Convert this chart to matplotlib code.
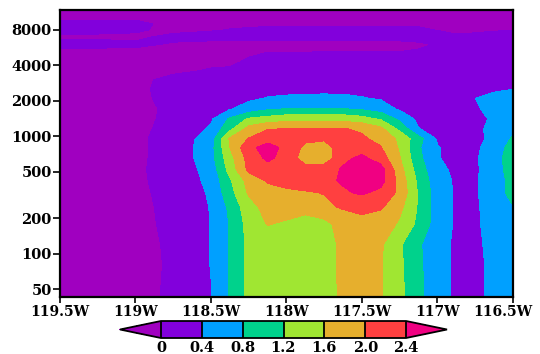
import numpy as np
import matplotlib
matplotlib.use('Agg')
from matplotlib import pyplot as plt
from matplotlib.colors import ListedColormap, BoundaryNorm
from matplotlib.ticker import FixedLocator, FixedFormatter, NullLocator
from matplotlib.transforms import ScaledTranslation

# longitude (deg east) of each grid column
lons = [-119.5, -119.25, -119.0, -118.75, -118.5, -118.375, -118.25, -118.125,
        -118.0, -117.875, -117.75, -117.625, -117.5, -117.375, -117.25,
        -117.125, -117.0, -116.875, -116.75, -116.625, -116.5]

# height of each grid row, top to bottom
heights = [11800, 10000, 9000, 8000, 7000, 6000, 5000, 4300, 3600, 3000, 2500,
           2100, 1700, 1400, 1150, 950, 800, 650, 520, 420, 330, 250, 180,
           120, 80, 43]

# field values, one row per height
field = [
    [-0.15, -0.15, -0.15, -0.15, -0.15, -0.15, -0.15, -0.15, -0.15, -0.15, -0.15, -0.15, -0.15, -0.15, -0.15, -0.15, -0.15, -0.15, -0.15, -0.15, -0.15],
    [-0.05, -0.05, -0.05, -0.1, -0.1, -0.1, -0.1, -0.1, -0.1, -0.1, -0.1, -0.1, -0.1, -0.1, -0.1, -0.1, -0.1, -0.1, -0.1, -0.1, -0.1],
    [0.1, 0.1, 0.1, -0.12, -0.08, -0.06, -0.05, -0.04, -0.04, -0.04, -0.04, -0.04, -0.04, -0.04, -0.04, -0.04, -0.05, -0.08, -0.08, -0.07, -0.06],
    [0.1, 0.1, 0.08, -0.14, -0.03, 0.01, 0.03, 0.05, 0.05, 0.05, 0.05, 0.05, 0.05, 0.05, 0.05, 0.04, -0.01, -0.05, -0.04, -0.02, -0.01],
    [-0.06, -0.06, -0.1, 0.12, 0.12, 0.12, 0.12, 0.12, 0.12, 0.12, 0.12, 0.12, 0.12, 0.12, 0.12, 0.12, 0.1, 0.03, 0.05, 0.08, 0.1],
    [0.1, 0.1, 0.08, -0.05, -0.1, -0.1, -0.1, -0.1, -0.1, -0.1, -0.1, -0.1, -0.1, -0.1, -0.1, -0.05, 0.02, 0.15, 0.15, 0.15, 0.15],
    [-0.15, -0.15, -0.15, -0.12, -0.1, -0.08, -0.04, 0.02, 0.02, 0.02, 0.03, 0.03, 0.03, 0.03, 0.03, 0.05, 0.12, 0.18, 0.18, 0.18, 0.18],
    [-0.15, -0.15, -0.15, -0.12, -0.08, -0.07, 0.05, 0.1, 0.12, 0.15, 0.15, 0.15, 0.15, 0.15, 0.15, 0.15, 0.18, 0.2, 0.2, 0.2, 0.2],
    [-0.15, -0.15, -0.15, -0.07, 0.03, 0.05, 0.15, 0.18, 0.2, 0.2, 0.2, 0.2, 0.2, 0.2, 0.2, 0.2, 0.2, 0.2, 0.22, 0.25, 0.25],
    [-0.15, -0.12, -0.09, 0.1, 0.2, 0.2, 0.2, 0.2, 0.2, 0.22, 0.22, 0.22, 0.22, 0.22, 0.2, 0.2, 0.2, 0.2, 0.22, 0.25, 0.3],
    [-0.2, -0.15, -0.08, 0.12, 0.2, 0.22, 0.25, 0.28, 0.3, 0.32, 0.33, 0.32, 0.3, 0.28, 0.25, 0.22, 0.2, 0.22, 0.28, 0.36, 0.4],
    [-0.22, -0.18, -0.08, 0.1, 0.2, 0.25, 0.33, 0.42, 0.45, 0.46, 0.46, 0.46, 0.42, 0.36, 0.3, 0.25, 0.22, 0.25, 0.4, 0.48, 0.52],
    [-0.22, -0.2, -0.15, 0.1, 0.25, 0.38, 0.55, 0.75, 0.82, 0.83, 0.83, 0.82, 0.75, 0.6, 0.35, 0.25, 0.22, 0.25, 0.36, 0.5, 0.6],
    [-0.22, -0.2, -0.12, 0.1, 0.35, 0.85, 1.25, 1.35, 1.45, 1.48, 1.48, 1.45, 1.35, 1.15, 0.7, 0.3, 0.22, 0.25, 0.3, 0.45, 0.6],
    [-0.22, -0.2, -0.08, 0.1, 0.45, 1.1, 1.75, 1.98, 2.02, 2.02, 2.02, 2.02, 1.95, 1.7, 1.1, 0.42, 0.25, 0.28, 0.32, 0.5, 0.7],
    [-0.22, -0.2, -0.06, 0.12, 0.6, 1.65, 2.02, 2.25, 2.2, 2.1, 2.05, 2.2, 2.05, 1.9, 1.5, 0.95, 0.35, 0.3, 0.3, 0.5, 0.85],
    [-0.22, -0.2, -0.06, 0.12, 0.65, 1.6, 2.3, 2.55, 2.3, 1.9, 1.85, 2.2, 2.2, 2.02, 1.55, 0.85, 0.42, 0.3, 0.32, 0.6, 0.95],
    [-0.22, -0.2, -0.05, 0.1, 0.65, 1.45, 2.15, 2.48, 2.25, 1.8, 1.75, 2.3, 2.5, 2.2, 1.62, 0.9, 0.42, 0.3, 0.35, 0.65, 1.0],
    [-0.22, -0.2, -0.05, 0.12, 0.55, 1.35, 2.1, 2.25, 2.3, 2.15, 2.2, 2.45, 2.65, 2.55, 1.75, 1.0, 0.5, 0.32, 0.33, 0.65, 0.95],
    [-0.22, -0.2, -0.06, 0.12, 0.5, 1.15, 1.75, 2.05, 2.2, 2.3, 2.3, 2.45, 2.65, 2.55, 1.85, 1.1, 0.55, 0.35, 0.35, 0.65, 0.9],
    [-0.22, -0.2, -0.07, 0.1, 0.45, 1.05, 1.65, 1.85, 1.9, 1.95, 2.02, 2.35, 2.45, 2.3, 1.9, 1.15, 0.6, 0.35, 0.35, 0.65, 0.9],
    [-0.22, -0.2, -0.08, 0.08, 0.42, 0.88, 1.45, 1.75, 1.8, 1.75, 1.9, 2.05, 2.15, 2.05, 1.7, 1.15, 0.6, 0.35, 0.33, 0.62, 0.79],
    [-0.22, -0.2, -0.1, 0.08, 0.41, 0.82, 1.35, 1.62, 1.55, 1.45, 1.5, 1.75, 1.85, 1.8, 1.55, 1.1, 0.6, 0.35, 0.32, 0.6, 0.75],
    [-0.22, -0.2, -0.12, 0.06, 0.41, 0.82, 1.3, 1.45, 1.5, 1.5, 1.5, 1.65, 1.8, 1.65, 1.25, 0.85, 0.55, 0.33, 0.3, 0.55, 0.65],
    [-0.25, -0.22, -0.15, 0.06, 0.41, 0.82, 1.3, 1.45, 1.5, 1.52, 1.55, 1.63, 1.78, 1.63, 1.28, 0.87, 0.55, 0.33, 0.3, 0.5, 0.6],
    [-0.3, -0.25, -0.15, 0.08, 0.39, 0.82, 1.3, 1.45, 1.5, 1.52, 1.55, 1.62, 1.75, 1.62, 1.3, 0.9, 0.55, 0.33, 0.3, 0.5, 0.6],
]

levels = [0, 0.4, 0.8, 1.2, 1.6, 2.0, 2.4]
level_labels = ['0', '0.4', '0.8', '1.2', '1.6', '2.0', '2.4']
fill_colors = ['#8200dc', '#00a0ff', '#00d28c', '#a0e632', '#e6af2d', '#ff4040']
under_color = '#a000c0'
over_color = '#f00082'

yticks = [50, 100, 200, 500, 1000, 2000, 4000, 8000]
xticks = [-119.5, -119.0, -118.5, -118.0, -117.5, -117.0, -116.5]
xtick_labels = ['119.5W', '119W', '118.5W', '118W', '117.5W', '117W', '116.5W']

cmap = ListedColormap(fill_colors)
cmap.set_under(under_color)
cmap.set_over(over_color)
norm = BoundaryNorm(levels, cmap.N)

fig = plt.figure(figsize=(5.4, 3.54), dpi=100)
ax = fig.add_axes([0.1111, 0.161, 0.8389, 0.8107])

X, Y = np.meshgrid(lons, heights)
Z = np.array(field)
cs = ax.contourf(X, Y, Z, levels=levels, cmap=cmap, norm=norm, extend='both')

ax.set_yscale('log')
ax.set_ylim(43, 11800)
ax.set_xlim(-119.5, -116.5)

tick_font = {'family': 'DejaVu Serif', 'weight': 'bold'}
ax.yaxis.set_major_locator(FixedLocator(yticks))
ax.yaxis.set_major_formatter(FixedFormatter([str(t) for t in yticks]))
ax.yaxis.set_minor_locator(NullLocator())
ax.xaxis.set_major_locator(FixedLocator(xticks))
ax.xaxis.set_major_formatter(FixedFormatter(xtick_labels))
ax.tick_params(axis='y', direction='out', length=5, width=1.2, pad=1)
ax.tick_params(axis='x', direction='out', length=4, width=1.2, pad=2)
for sp in ax.spines.values():
    sp.set_linewidth(1.6)

fig.canvas.draw()
for lab in ax.get_yticklabels():
    lab.set_fontproperties(tick_font)
    lab.set_fontsize(10.5)
xlabs = ax.get_xticklabels()
for lab in xlabs:
    lab.set_fontproperties(tick_font)
    lab.set_fontsize(10)
# pull the last longitude label in so it stays inside the figure
xlabs[-1].set_transform(xlabs[-1].get_transform()
                        + ScaledTranslation(-0.1, 0, fig.dpi_scale_trans))

cax = fig.add_axes([0.2222, 0.0452, 0.6056, 0.048])
cb = fig.colorbar(cs, cax=cax, orientation='horizontal', extendfrac=0.167,
                  drawedges=True, ticks=levels)
cb.outline.set_linewidth(1.3)
cb.dividers.set_linewidth(1.3)
cb.ax.set_xticklabels(level_labels)
cax.tick_params(length=0, pad=2)
for lab in cax.get_xticklabels():
    lab.set_fontproperties(tick_font)
    lab.set_fontsize(10.5)

fig.savefig('out.png', dpi=100)
